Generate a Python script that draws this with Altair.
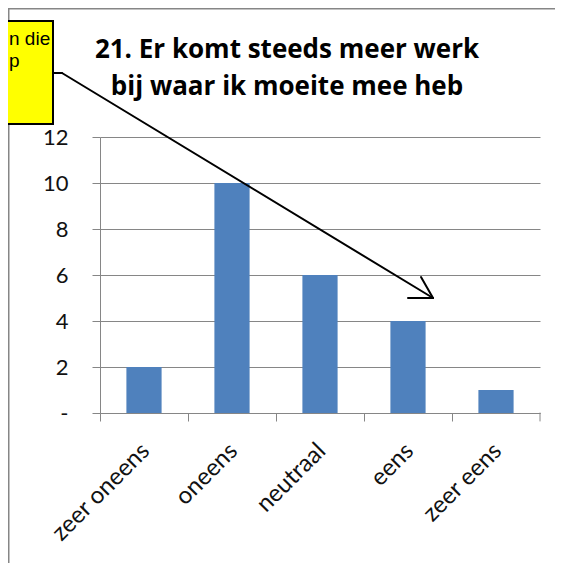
import altair as alt
import pandas as pd

# ---- data ----
categories = ["zeer oneens", "oneens", "neutraal", "eens", "zeer eens"]
counts = [2, 10, 6, 4, 1]
y_ticks = [0, 2, 4, 6, 8, 10, 12]
title_lines = ["21. Er komt steeds meer werk", "bij waar ik moeite mee heb"]
callout_lines = ["n die", "p"]

df = pd.DataFrame({"antwoord": categories, "aantal": counts})

W, H = 440, 276
FONT = "Lato"
GRAY = "#868686"
TXT = "#111111"

bars = alt.Chart(df).mark_bar(color="#4F81BD", width=alt.RelativeBandSize(0.4)).encode(
    x=alt.X(
        "antwoord:N", sort=categories, title=None,
        scale=alt.Scale(paddingInner=0, paddingOuter=0),
        axis=alt.Axis(
            bandPosition=0, labelOffset=2, labelAngle=-45, labelAlign="right",
            labelBaseline="middle", labelPadding=26, tickSize=8, tickColor=GRAY,
            domainColor=GRAY, labelFont=FONT, labelFontSize=24, labelColor=TXT,
            grid=False,
        ),
    ),
    y=alt.Y(
        "aantal:Q", title=None,
        scale=alt.Scale(domain=[0, 12], nice=False),
        axis=alt.Axis(
            values=y_ticks, labelExpr="datum.value == 0 ? '-' : datum.label",
            tickSize=8, tickColor=GRAY, domainColor=GRAY, gridColor=GRAY,
            grid=True, labelPadding=24, labelFont=FONT, labelFontSize=22,
            labelColor=TXT,
        ),
    ),
)

one = pd.DataFrame({"a": [0]})


def seg(x1, y1, x2, y2, color="black", w=2):
    return alt.Chart(one).mark_rule(color=color, strokeWidth=w, strokeCap="round").encode(
        x=alt.value(x1), y=alt.value(y1), x2=alt.value(x2), y2=alt.value(y2)
    )


def txt(s, x, y, size, bold=False, align="center", font=FONT):
    return alt.Chart(one).mark_text(
        text=s, fontSize=size, font=font, fontWeight="bold" if bold else "normal",
        align=align, baseline="alphabetic", color="black",
    ).encode(x=alt.value(x), y=alt.value(y))


# positions below are relative to the plot area's top-left corner
last_tick = seg(W, H, W, H + 8, color=GRAY, w=1)

frame = [
    seg(-91.5, -129, -91.5, 600, color=GRAY, w=2),
    seg(-92, -128.5, 470, -128.5, color=GRAY, w=2),
]

box = alt.Chart(one).mark_rect(fill="#FFFF00", stroke="black", strokeWidth=2).encode(
    x=alt.value(-106), x2=alt.value(-47), y=alt.value(-116), y2=alt.value(-13)
)

callout = [
    txt(callout_lines[0], -91, -92, 19, align="left", font="Liberation Sans"),
    txt(callout_lines[1], -91, -70, 19, align="left", font="Liberation Sans"),
]

arrow = [
    seg(-47, -64, -38, -64),
    seg(-38, -64, 333, 161),
    seg(308, 161, 333, 161),
    seg(321, 140, 333, 161),
]

title = [
    txt(title_lines[0], 187, -79, 26, bold=True, font="Open Sans"),
    txt(title_lines[1], 187, -42, 26, bold=True, font="Open Sans"),
]

chart = alt.layer(
    bars, last_tick, *frame, *arrow, box, *callout, *title
).properties(
    width=W, height=H,
    autosize=alt.AutoSizeParams(type="none"),
    padding={"left": 92, "top": 129, "right": 15, "bottom": 150},
).configure_view(stroke=None)

chart.save("out.html", embed_options={"renderer": "svg", "actions": False})
